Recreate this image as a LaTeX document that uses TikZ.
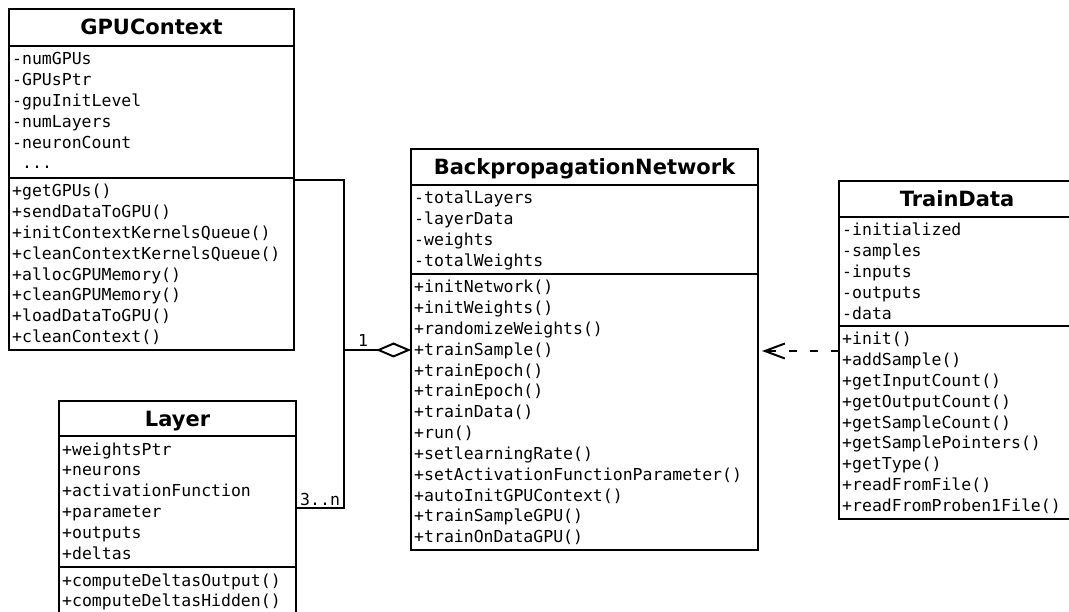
\documentclass[tikz,border=0pt]{standalone}
\usepackage{fontspec}
\newfontfamily\umlmono{DejaVu Sans Mono}
\newfontfamily\umlsans{DejaVu Sans}
\usetikzlibrary{arrows.meta}
% a row of three dots, kept out of \foreach's reach
\newcommand\moremembers{\phantom{-}...}

\begin{document}
\begin{tikzpicture}[x=1pt,y=-1pt,
  box/.style={draw, line width=2pt, inner sep=0pt, outer sep=0pt, anchor=north west},
  divider/.style={line width=2pt},
  title/.style={anchor=base, inner sep=0pt, font=\umlsans\bfseries\fontsize{21}{25}\selectfont},
  member/.style={anchor=base west, inner sep=0pt, font=\umlmono\fontsize{16.5}{20}\selectfont},
  link/.style={line width=2pt},
]
\useasboundingbox (0,0) rectangle (1069,612);

% ---------- GPUContext ----------
\node[box, minimum width=285pt, minimum height=341pt] (gpu) at (9,9) {};
\draw[divider] (9,46) -- (294,46);
\draw[divider] (9,178) -- (294,178);
\node[title] (gpuT) at (151.5,35) {GPUContext};
\foreach \m [count=\i from 0] in {-numGPUs,-GPUsPtr,-gpuInitLevel,-numLayers,-neuronCount,\moremembers}
  \node[member] (gpuA\i) at (12,65+20.8*\i) {\m};
\foreach \m [count=\i from 0] in {+getGPUs(),+sendDataToGPU(),+initContextKernelsQueue(),+cleanContextKernelsQueue(),+allocGPUMemory(),+cleanGPUMemory(),+loadDataToGPU(),+cleanContext()}
  \node[member] (gpuM\i) at (12,197+20.8*\i) {\m};

% ---------- Layer ----------
\node[box, minimum width=237pt, minimum height=213pt] (layer) at (59,401) {};
\draw[divider] (59,436) -- (296,436);
\draw[divider] (59,567) -- (296,567);
\node[title] (layerT) at (177.5,427) {Layer};
\foreach \m [count=\i from 0] in {+weightsPtr,+neurons,+activationFunction,+parameter,+outputs,+deltas}
  \node[member] (layerA\i) at (62,455+20.8*\i) {\m};
\foreach \m [count=\i from 0] in {+computeDeltasOutput(),+computeDeltasHidden()}
  \node[member] (layerM\i) at (62,586+20.8*\i) {\m};

% ---------- BackpropagationNetwork ----------
\node[box, minimum width=347pt, minimum height=401pt] (bpn) at (411,149) {};
\draw[divider] (411,185) -- (758,185);
\draw[divider] (411,274) -- (758,274);
\node[title] (bpnT) at (584.5,175) {BackpropagationNetwork};
\foreach \m [count=\i from 0] in {-totalLayers,-layerData,-weights,-totalWeights}
  \node[member] (bpnA\i) at (414,204+20.8*\i) {\m};
\foreach \m [count=\i from 0] in {+initNetwork(),+initWeights(),+randomizeWeights(),+trainSample(),+trainEpoch(),+trainEpoch(),+trainData(),+run(),+setlearningRate(),+setActivationFunctionParameter(),+autoInitGPUContext(),+trainSampleGPU(),+trainOnDataGPU()}
  \node[member] (bpnM\i) at (414,293+20.8*\i) {\m};

% ---------- TrainData ----------
\node[box, minimum width=236pt, minimum height=338pt] (td) at (839,181) {};
\draw[divider] (839,217) -- (1075,217);
\draw[divider] (839,326) -- (1075,326);
\node[title] (tdT) at (957,207) {TrainData};
\foreach \m [count=\i from 0] in {-initialized,-samples,-inputs,-outputs,-data}
  \node[member] (tdA\i) at (842,236+20.8*\i) {\m};
\foreach \m [count=\i from 0] in {+init(),+addSample(),+getInputCount(),+getOutputCount(),+getSampleCount(),+getSamplePointers(),+getType(),+readFromFile(),+readFromProben1File()}
  \node[member] (tdM\i) at (842,345+20.8*\i) {\m};

% ---------- connectors ----------
\path (gpu.north east) ++(0,171) coordinate (gpuOut);
\path (layer.north east) ++(0,107) coordinate (layerOut);
\path (bpn.north west) ++(0,201) coordinate (bpnIn);
\path (bpn.north east) ++(0,202) coordinate (bpnOut);
\path (td.north west) ++(0,170) coordinate (tdIn);
\coordinate (join) at (344,350);

% aggregation: GPUContext and Layer are parts of the network
\draw[link] (gpuOut) -| (join);
\draw[link] (layerOut) -| (join);
\draw[link, -{Diamond[open, length=35pt, width=15pt]}] (join) -- (bpnIn);
\node[member] (multOne) at (358,347) {1};
\node[member] (multMany) at (300,505) {3..n};

% dependency: the network uses TrainData
\draw[link, dash pattern=on 8pt off 13pt, shorten >=4pt,
      -{Straight Barb[length=20pt, width=15pt]}] (tdIn) -- (bpnOut);
\end{tikzpicture}
\end{document}
